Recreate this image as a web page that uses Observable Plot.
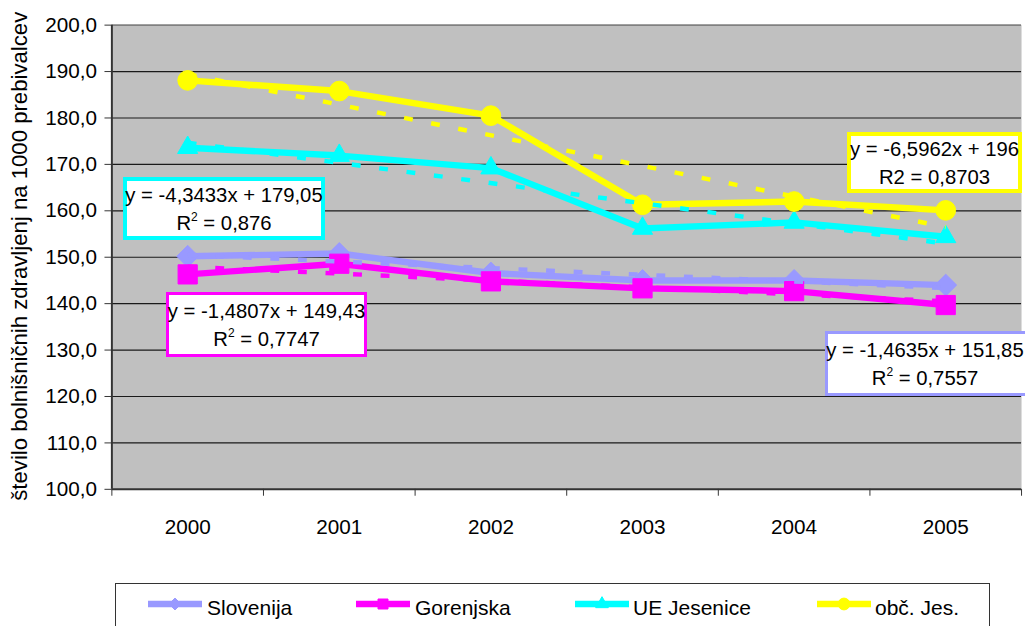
<!DOCTYPE html>
<html><head><meta charset="utf-8">
<script src="https://cdn.jsdelivr.net/npm/d3@7"></script>
<script src="https://cdn.jsdelivr.net/npm/@observablehq/plot@0.6"></script>
<style>
html,body{margin:0;padding:0;background:#fff;overflow:hidden}
#wrap{position:relative;width:1025px;height:626px;overflow:hidden;font-family:"Liberation Sans",Arial,sans-serif;color:#000}
#chart{position:absolute;left:0;top:0}
.eq{position:absolute;background:#fff;box-sizing:border-box;display:flex;flex-direction:column;align-items:center;justify-content:center;font-size:20.3px;line-height:28px;white-space:nowrap}
.eq sup{font-size:12px;line-height:0;vertical-align:9px}
#legend{position:absolute;left:115px;top:583px;width:875px;height:60px;box-sizing:border-box;border:1px solid #333;background:#fff}
.sw{position:absolute;top:10px}
.lt{position:absolute;top:13px;font-size:21px;line-height:21px;white-space:nowrap}
</style></head><body>
<div id="wrap"><div id="chart"></div></div>
<script>
// ---- data ----
const years = [2000, 2001, 2002, 2003, 2004, 2005];
const seriesNames = ["Slovenija", "Gorenjska", "UE Jesenice", "obč. Jes."];
const slovenija  = [150.2, 150.8, 146.6, 145.0, 145.0, 144.0];
const gorenjska  = [146.3, 148.6, 144.8, 143.3, 142.7, 139.7];
const ueJesenice = [173.6, 171.9, 169.2, 156.2, 157.5, 154.4];
const obcJes     = [188.1, 185.8, 180.5, 161.3, 162.0, 160.1];
const yTicks = [100, 110, 120, 130, 140, 150, 160, 170, 180, 190, 200];
const yTitle = "število bolnišničnih zdravljenj na 1000 prebivalcev";
const equations = ["y = -1,4635x + 151,85", "y = -1,4807x + 149,43", "y = -4,3433x + 179,05", "y = -6,5962x + 196"];
const r2Values = ["0,7557", "0,7747", "0,876", "0,8703"];
const r2Superscript = [true, true, true, false];

// ---- styles / layout ----
const seriesValues = [slovenija, gorenjska, ueJesenice, obcJes];
const colors = ["#9999FF", "#FF00FF", "#00FFFF", "#FFFF00"];
const symbols = ["diamond2", "square", "triangle", "circle"];
const radii = [10, 11, 7.6, 10];
const eqBoxes = [
  {left: 825, top: 331, width: 210, height: 65, border: 3, padRight: 10},
  {left: 166, top: 292, width: 201, height: 65, border: 3, padRight: 0},
  {left: 123, top: 177, width: 202, height: 63, border: 4, padRight: 0},
  {left: 847, top: 132, width: 175, height: 61, border: 4, padRight: 0}
];
const legendSwatchX = [148, 356, 575, 817];
const legendTextX = [207, 415, 633, 875];

const rows = seriesNames.flatMap((name, i) =>
  years.map((year, j) => ({series: name, year, value: seriesValues[i][j]})));
const boundaries = [years[0] - 0.5, ...years.map(y => y + 0.5)];
const fmt = d => d3.format(".1f")(d).replace(".", ",");

const seriesMarks = seriesNames.flatMap((name, i) => {
  const sub = rows.filter(d => d.series === name);
  return [
    Plot.line(sub, {x: "year", y: "value", stroke: colors[i], strokeWidth: 6.5, strokeLinejoin: "round"}),
    Plot.dot(sub, {x: "year", y: "value", symbol: symbols[i], r: radii[i], fill: colors[i], stroke: colors[i], strokeWidth: 1})
  ];
});
const trendMarks = seriesNames.map((name, i) =>
  Plot.linearRegressionY(rows.filter(d => d.series === name), {
    x: "year", y: "value", stroke: colors[i], ci: 0, strokeWidth: 4.5,
    strokeDasharray: "9,19", strokeLinecap: "butt"
  }));

const chart = Plot.plot({
  width: 1040,
  height: 583,
  marginLeft: 113,
  marginRight: 4,
  marginTop: 25,
  marginBottom: 87,
  style: {fontFamily: "'Liberation Sans', Arial, sans-serif", fontSize: "21px", color: "#000", background: "transparent", overflow: "visible"},
  x: {type: "linear", domain: [boundaries[0], boundaries[boundaries.length - 1]]},
  y: {domain: [yTicks[0], yTicks[yTicks.length - 1]]},
  marks: [
    Plot.frame({fill: "#C0C0C0", stroke: "none"}),
    Plot.gridY({ticks: yTicks.slice(1, -1), stroke: "#1a1a1a", strokeOpacity: 1, strokeWidth: 1.2}),
    Plot.ruleY([yTicks[yTicks.length - 1]], {stroke: "#808080", strokeWidth: 2}),
    ...seriesMarks,
    ...trendMarks,
    Plot.ruleY([yTicks[0]], {stroke: "#333", strokeWidth: 2}),
    Plot.ruleX([boundaries[0]], {stroke: "#333", strokeWidth: 2}),
    Plot.axisY({ticks: yTicks, tickSize: 7, tickPadding: 8, tickFormat: fmt, label: null, stroke: "#333", fontSize: 21}),
    Plot.axisX({ticks: years, tickSize: 0, tickPadding: 30, tickFormat: d => String(d), label: null, fontSize: 21}),
    Plot.axisX({ticks: boundaries, tickSize: 7, tickFormat: () => "", label: null, stroke: "#333"}),
    Plot.text([yTitle], {frameAnchor: "left", textAnchor: "middle", lineAnchor: "middle", rotate: -90, dx: -93, dy: -1, text: d => d, fontSize: 22.5})
  ]
});
const wrap = document.getElementById("wrap");
document.getElementById("chart").appendChild(chart);

// equation boxes
seriesNames.forEach((name, i) => {
  const b = eqBoxes[i];
  const div = document.createElement("div");
  div.className = "eq";
  Object.assign(div.style, {left: b.left + "px", top: b.top + "px", width: b.width + "px", height: b.height + "px", border: `${b.border}px solid ${colors[i]}`, paddingRight: b.padRight + "px"});
  const l1 = document.createElement("div");
  l1.textContent = equations[i];
  const l2 = document.createElement("div");
  l2.appendChild(document.createTextNode("R"));
  if (r2Superscript[i]) {
    const s = document.createElement("sup"); s.textContent = "2"; l2.appendChild(s);
  } else {
    l2.appendChild(document.createTextNode("2"));
  }
  l2.appendChild(document.createTextNode(" = " + r2Values[i]));
  div.appendChild(l1); div.appendChild(l2);
  wrap.appendChild(div);
});

// legend
const legend = document.createElement("div");
legend.id = "legend";
const symMap = {diamond2: d3.symbolDiamond2, square: d3.symbolSquare, triangle: d3.symbolTriangle, circle: d3.symbolCircle};
const legendSizes = [90, 100, 70, 110];
seriesNames.forEach((name, i) => {
  const svg = d3.create("svg").attr("class", "sw").attr("width", 54).attr("height", 20)
    .style("left", (legendSwatchX[i] - 116) + "px");
  svg.append("line").attr("x1", 0).attr("x2", 54).attr("y1", 10).attr("y2", 10)
    .attr("stroke", colors[i]).attr("stroke-width", 6.5);
  svg.append("path").attr("transform", "translate(27,10)")
    .attr("d", d3.symbol(symMap[symbols[i]], legendSizes[i])())
    .attr("fill", colors[i]).attr("stroke", colors[i]);
  legend.appendChild(svg.node());
  const t = document.createElement("span");
  t.className = "lt";
  t.style.left = (legendTextX[i] - 116) + "px";
  t.textContent = name;
  legend.appendChild(t);
});
wrap.appendChild(legend);
</script>
</body></html>
